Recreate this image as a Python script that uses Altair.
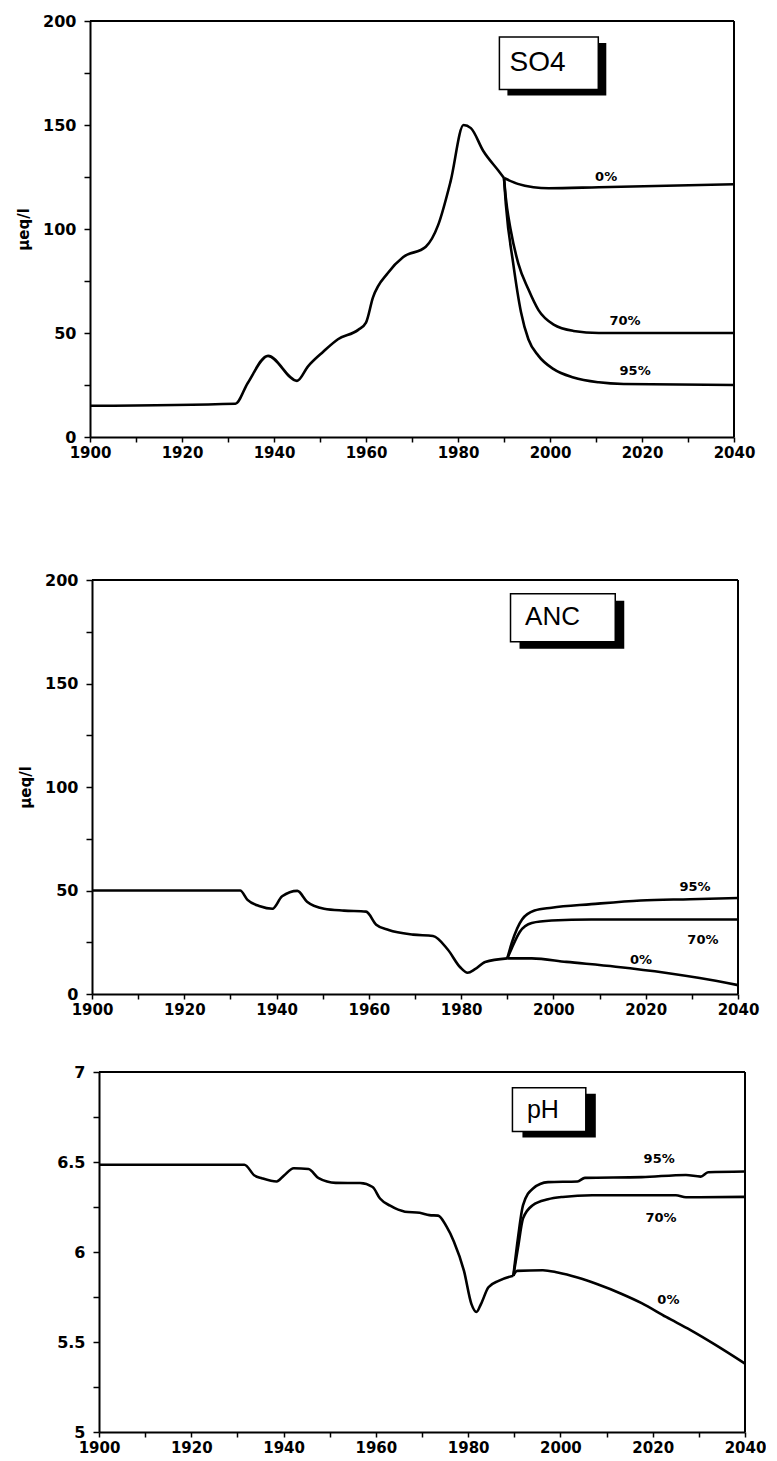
import altair as alt
import pandas as pd

# ---------------- data ----------------
so4_hist_year = [1900, 1931.6, 1934.3, 1938.7, 1945, 1947.4, 1950.7, 1953.9, 1958.3, 1960, 1961.5,
                 1964.8, 1968.1, 1973, 1975.7, 1978.4, 1981.2, 1982.8, 1985.5, 1988.8, 1990]
so4_hist_val = [15, 16, 26, 39, 27, 34, 41, 47, 51.5, 55, 67,
                79, 86.5, 91.5, 102, 123, 150, 148.5, 137.5, 128, 124.5]
so4_0_year = [1990, 1993, 1996.4, 1999.7, 2010.6, 2040]
so4_0_val = [124.5, 121.7, 120.1, 119.6, 120.1, 121.5]
so4_70_year = [1990, 1990.4, 1991.5, 1993.1, 1995.3, 1997.5, 2000.8, 2005.1, 2010.6, 2040]
so4_70_val = [124.5, 115, 99, 83.5, 71, 61, 54, 51, 50, 50]
so4_95_year = [1990, 1990.4, 1992, 1993.7, 1995.3, 1997.5, 2000.8, 2005.1, 2010.6, 2016, 2040]
so4_95_val = [124.5, 112, 83.5, 60, 47, 39, 32.6, 28.6, 26.3, 25.5, 25]

anc_hist_year = [1900, 1932.1, 1933.7, 1936.4, 1939.1, 1941.2, 1944.5, 1946.6, 1950.3, 1954.6, 1959.4,
                 1961.6, 1964.3, 1969.6, 1973.9, 1977.1, 1979.8, 1981.4, 1983, 1985.2, 1990]
anc_hist_val = [50, 50, 45.5, 42.4, 41.2, 47.2, 49.8, 44.6, 41.2, 40.3, 39.8,
                33.5, 30.9, 28.7, 28, 21.5, 12.9, 10.3, 12, 15.5, 17.2]
anc_0_year = [1990, 1995.3, 2002.8, 2013.5, 2024.2, 2031.7, 2040]
anc_0_val = [17.2, 17.2, 15.5, 13.2, 10.3, 7.7, 4.3]
anc_70_year = [1990, 1991, 1992.7, 1995.3, 1999.6, 2008.2, 2040]
anc_70_val = [17.2, 22.3, 30, 34.3, 35.5, 36, 36]
anc_95_year = [1990, 1991, 1993.2, 1995.9, 1999.6, 2008.2, 2018.9, 2029.6, 2040]
anc_95_val = [17.2, 24.9, 36, 40.3, 41.7, 43.4, 45.2, 45.8, 46.4]

ph_hist_year = [1900, 1931.5, 1933.7, 1935.3, 1938.5, 1940.1, 1942.2, 1945.4, 1947.6, 1951.3, 1956.6,
                1959.3, 1960.9, 1963.1, 1966.3, 1969.5, 1971.6, 1973.5, 1975.3, 1976.9, 1979.1,
                1980.7, 1981.8, 1982.8, 1984.4, 1986.6, 1989.8]
ph_hist_val = [6.485, 6.485, 6.425, 6.41, 6.392, 6.425, 6.465, 6.461, 6.41, 6.384, 6.383,
               6.361, 6.297, 6.257, 6.224, 6.218, 6.205, 6.202, 6.142, 6.059, 5.895,
               5.712, 5.667, 5.712, 5.804, 5.84, 5.868]
ph_0_year = [1989.8, 1990.6, 1996.2, 1999.4, 2003.7, 2007.9, 2013.3, 2017.6, 2022.9, 2028.2, 2033.6, 2040]
ph_0_val = [5.868, 5.895, 5.899, 5.886, 5.858, 5.822, 5.767, 5.716, 5.639, 5.566, 5.484, 5.38]
ph_70_year = [1989.8, 1990.8, 1991.9, 1994, 1997.3, 2000.5, 2006.9, 2025, 2027.2, 2040]
ph_70_val = [5.868, 6.023, 6.187, 6.26, 6.293, 6.306, 6.315, 6.315, 6.304, 6.306]
ph_95_year = [1989.8, 1990.8, 1991.9, 1994, 1997.3, 2003.7, 2005.3, 2017.6, 2027.2, 2030.4, 2032, 2040]
ph_95_val = [5.868, 6.078, 6.26, 6.352, 6.388, 6.392, 6.412, 6.416, 6.428, 6.419, 6.443, 6.447]

scenario_names = ["0%", "70%", "95%"]
x_ticks = list(range(1900, 2041, 10))
conc_ticks = list(range(0, 201, 25))
ph_ticks = [5, 5.25, 5.5, 5.75, 6, 6.25, 6.5, 6.75, 7]

# annotation placement (data coordinates)
so4_box = dict(x=1989.0, x2=2010.5, y=167.1, y2=192.3, tx=1997.3, ty=180, text="SO4", size=28, sdx=8, sdy=6)
anc_box = dict(x=1990.7, x2=2013.4, y=170.2, y2=193.4, tx=1999.8, ty=182, text="ANC", size=26, sdx=9, sdy=7)
ph_box = dict(x=1989.6, x2=2005.5, y=6.669, y2=6.912, tx=1996.2, ty=6.79, text="pH", size=25, sdx=10, sdy=6)
so4_lbl = dict(x=[2012.2, 2016.3, 2018.5], y=[125, 56, 31.5])
anc_lbl = dict(x=[2019, 2032.4, 2030.7], y=[16.5, 26.2, 51.8])
ph_lbl = dict(x=[2023.4, 2021.8, 2021.4], y=[5.734, 6.187, 6.515])

FONT = "DejaVu Sans"


def make_df(hist_x, hist_y, scen):
    rows = [{"year": a, "value": b, "series": "hist"} for a, b in zip(hist_x, hist_y)]
    for name, (xs, ys) in zip(scenario_names, scen):
        rows += [{"year": a, "value": b, "series": name} for a, b in zip(xs, ys)]
    return pd.DataFrame(rows)


def panel(df, domain, yticks, label_expr, yfmt, ytitle, height, box, lbl, dx, w):
    x_axis = alt.Axis(values=x_ticks, format="d", labelExpr="datum.value % 20 == 0 ? datum.label : ''",
                      labelFlush=False, labelOverlap=False, title=None, grid=False)
    y_kwargs = dict(values=yticks, format=yfmt, labelExpr=label_expr, labelOverlap=False,
                    labelFlush=False, grid=False, offset=-dx)
    if ytitle:
        y_axis = alt.Axis(title=ytitle, titlePadding=11, **y_kwargs)
    else:
        y_axis = alt.Axis(title=None, **y_kwargs)
    xs = alt.Scale(domain=[1900, 2040], range=[dx, dx + w], nice=False, zero=False)
    ys = alt.Scale(domain=domain, nice=False, zero=False)

    lines = alt.Chart(df).mark_line(color="black", strokeWidth=2.6, interpolate="monotone").encode(
        x=alt.X("year:Q", scale=xs, axis=x_axis),
        y=alt.Y("value:Q", scale=ys, axis=y_axis),
        detail="series:N",
    )
    top = alt.Chart().mark_rule(color="black", strokeWidth=2).encode(
        x=alt.datum(1900), x2=alt.datum(2040), y=alt.datum(domain[1])
    )
    right = alt.Chart().mark_rule(color="black", strokeWidth=2).encode(
        x=alt.datum(2040), y=alt.datum(domain[0]), y2=alt.datum(domain[1])
    )
    shadow = alt.Chart().mark_rect(color="black", xOffset=box["sdx"], x2Offset=box["sdx"],
                                   yOffset=box["sdy"], y2Offset=box["sdy"]).encode(
        x=alt.datum(box["x"]), x2=alt.datum(box["x2"]),
        y=alt.datum(box["y"]), y2=alt.datum(box["y2"]),
    )
    frame = alt.Chart().mark_rect(fill="white", stroke="black", strokeWidth=1.5).encode(
        x=alt.datum(box["x"]), x2=alt.datum(box["x2"]),
        y=alt.datum(box["y"]), y2=alt.datum(box["y2"]),
    )
    btext = alt.Chart().mark_text(font="Liberation Sans", fontSize=box["size"], color="black").encode(
        x=alt.datum(box["tx"]), y=alt.datum(box["ty"]), text=alt.value(box["text"])
    )
    ldf = pd.DataFrame({"x": lbl["x"], "y": lbl["y"], "t": scenario_names})
    ltext = alt.Chart(ldf).mark_text(font=FONT, fontWeight="bold", fontSize=13, color="black").encode(
        x="x:Q", y="y:Q", text="t:N"
    )
    return alt.layer(lines, top, right, shadow, frame, btext, ltext).properties(width=dx + w, height=height)


p1 = panel(make_df(so4_hist_year, so4_hist_val,
                   [(so4_0_year, so4_0_val), (so4_70_year, so4_70_val), (so4_95_year, so4_95_val)]),
           [0, 200], conc_ticks, "datum.value % 50 == 0 ? datum.label : ''", "d", "µeq/l", 416,
           so4_box, so4_lbl, 0, 644)
p2 = panel(make_df(anc_hist_year, anc_hist_val,
                   [(anc_0_year, anc_0_val), (anc_70_year, anc_70_val), (anc_95_year, anc_95_val)]),
           [0, 200], conc_ticks, "datum.value % 50 == 0 ? datum.label : ''", "d", "µeq/l", 414,
           anc_box, anc_lbl, 2, 646)
p3 = panel(make_df(ph_hist_year, ph_hist_val,
                   [(ph_0_year, ph_0_val), (ph_70_year, ph_70_val), (ph_95_year, ph_95_val)]),
           [5, 7], ph_ticks, "(datum.value * 2) % 1 == 0 ? datum.label : ''", "~g", None, 360,
           ph_box, ph_lbl, 9, 646)

chart = alt.vconcat(alt.vconcat(p1, p2, spacing=112), p3, spacing=47).properties(
    padding={"left": 8, "top": 5, "right": 0, "bottom": 0},
    background="white",
).configure_view(strokeWidth=0).configure_axis(
    domainColor="black", domainWidth=2, tickColor="black", tickWidth=1.5,
    labelFont=FONT, labelFontWeight="bold", labelColor="black",
    titleFont=FONT, titleFontWeight="bold", titleFontSize=15, titleColor="black",
).configure_axisX(tickSize=5, labelPadding=3, labelFontSize=15).configure_axisY(
    tickSize=6, labelPadding=8, labelFontSize=16)

chart.save("out.html", embed_options={"renderer": "svg", "actions": False})
